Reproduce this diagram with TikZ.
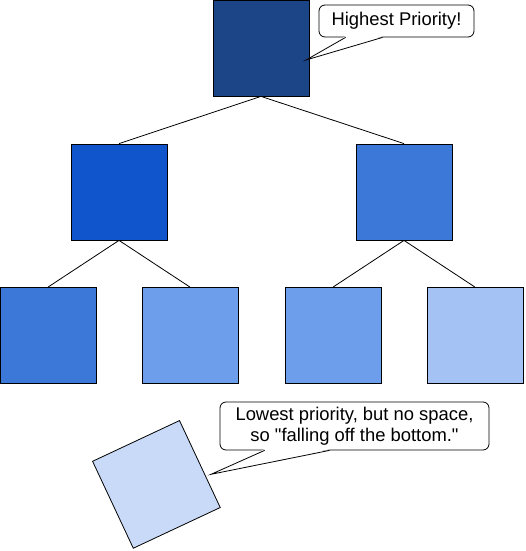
\documentclass[tikz,border=0pt]{standalone}
\usepackage{fontspec}
\setmainfont{Liberation Sans}[Ligatures=TeXOff]
\usetikzlibrary{calc}
\definecolor{lvA}{HTML}{1C4587}
\definecolor{lvB}{HTML}{1155CC}
\definecolor{lvC}{HTML}{3C78D8}
\definecolor{lvD}{HTML}{6D9EEB}
\definecolor{lvE}{HTML}{A4C2F4}
\definecolor{lvF}{HTML}{C9DAF8}
\tikzset{
  heapbox/.style={draw=black, line width=0.8pt, minimum size=96pt, inner sep=0pt},
  edge/.style={draw=black, line width=0.8pt},
  callout/.style={draw=black, line width=0.8pt, fill=white, rounded corners=6pt, inner sep=0pt, align=center,
    font=\fontsize{18.4pt}{21pt}\selectfont},
}
\begin{document}
\begin{tikzpicture}[x=1pt,y=-1pt]
\useasboundingbox (0,0) rectangle (525,551);
% level 1
\node[heapbox, fill=lvA] (r) at (261,48) {};
% level 2
\node[heapbox, fill=lvB] (l) at (119,192) {};
\node[heapbox, fill=lvC] (rr) at (404,192) {};
% level 3
\node[heapbox, fill=lvC] (ll) at (48,335.5) {};
\node[heapbox, fill=lvD] (lr) at (190,335.5) {};
\node[heapbox, fill=lvD] (rl) at (333,335.5) {};
\node[heapbox, fill=lvE] (rrr) at (475,335.5) {};
% falling
\node[heapbox, fill=lvF, rotate=25.1] (f) at (156.4,484.4) {};
% edges
\draw[edge] (r.south) -- (l.north);
\draw[edge] (r.south) -- (rr.north);
\draw[edge] (l.south) -- (ll.north);
\draw[edge] (l.south) -- (lr.north);
\draw[edge] (rr.south) -- (rl.north);
\draw[edge] (rr.south) -- (rrr.north);
% callout 1
\node[callout, minimum width=155pt, minimum height=32pt] (c1) at (396.5,21) {Highest Priority!};
\coordinate (t1) at (306,60);
\coordinate (a1) at ($(c1.south west)+(27,0)$);
\coordinate (b1) at ($(c1.south west)+(64,0)$);
\fill[white] ($(a1)+(0,-1.2)$) -- (t1) -- ($(b1)+(0,-1.2)$) -- cycle;
\draw[edge, line join=miter] (a1) -- (t1) -- (b1);
% callout 2
\node[callout, minimum width=269pt, minimum height=48pt] (c2) at (354.5,426) {Lowest priority, but no space,\\so "falling off the bottom."};
\coordinate (t2) at (211,474.3);
\coordinate (a2) at ($(c2.south west)+(45,0)$);
\coordinate (b2) at ($(c2.south west)+(110,0)$);
\fill[white] ($(a2)+(0,-1.2)$) -- (t2) -- ($(b2)+(0,-1.2)$) -- cycle;
\draw[edge, line join=miter] (a2) -- (t2) -- (b2);
\end{tikzpicture}
\end{document}
